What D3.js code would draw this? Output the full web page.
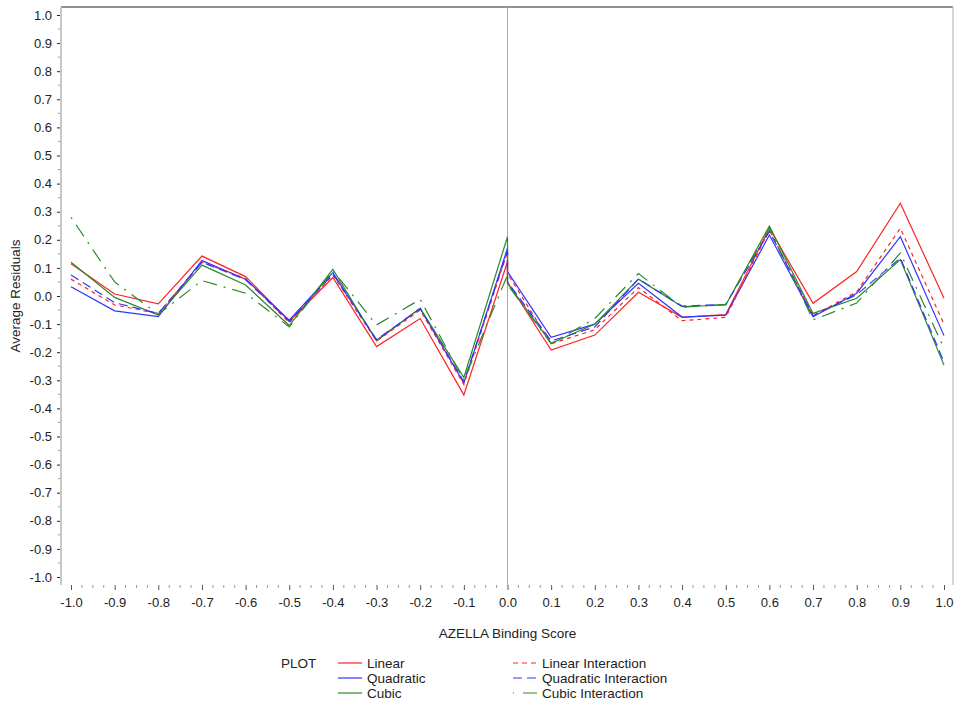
<!DOCTYPE html>
<html>
<head>
<meta charset="utf-8">
<script src="https://cdn.jsdelivr.net/npm/d3@7"></script>
<style>
body { margin: 0; background: #fff; }
text { font-family: "Liberation Sans", Arial, sans-serif; }
</style>
</head>
<body>
<svg id="chart"></svg>
<script>
// x values: 0.0 appears twice (left and right segment meet there)
const xVals = [-1.0, -0.9, -0.8, -0.7, -0.6, -0.5, -0.4, -0.3, -0.2, -0.1, 0.0,
               0.0, 0.1, 0.2, 0.3, 0.4, 0.5, 0.6, 0.7, 0.8, 0.9, 1.0]

const linear = [0.115, 0.007, -0.028, 0.142, 0.069, -0.090, 0.066, -0.180, -0.080, -0.352, 0.122,
                0.050, -0.192, -0.139, 0.013, -0.076, -0.066, 0.241, -0.026, 0.087, 0.330, -0.008]
const quadratic = [0.033, -0.053, -0.073, 0.126, 0.060, -0.086, 0.083, -0.157, -0.044, -0.310, 0.170,
                   0.087, -0.147, -0.100, 0.045, -0.075, -0.068, 0.217, -0.074, 0.010, 0.211, -0.141]
const cubic = [0.120, -0.005, -0.068, 0.110, 0.039, -0.105, 0.095, -0.160, -0.044, -0.290, 0.211,
               0.045, -0.168, -0.100, 0.060, -0.038, -0.032, 0.249, -0.062, -0.008, 0.130, -0.246]
const linearInteraction = [0.060, -0.032, -0.062, 0.120, 0.062, -0.095, 0.075, -0.160, -0.050, -0.315, 0.158,
                           0.080, -0.170, -0.120, 0.030, -0.088, -0.076, 0.235, -0.070, 0.015, 0.241, -0.100]
const quadraticInteraction = [0.075, -0.024, -0.062, 0.120, 0.058, -0.090, 0.078, -0.155, -0.045, -0.305, 0.160,
                              0.050, -0.160, -0.110, 0.060, -0.036, -0.030, 0.230, -0.070, 0.005, 0.135, -0.235]
const cubicInteraction = [0.280, 0.050, -0.065, 0.055, 0.010, -0.110, 0.090, -0.103, -0.012, -0.300, 0.075,
                          0.040, -0.170, -0.080, 0.080, -0.040, -0.030, 0.240, -0.085, -0.025, 0.153, -0.186]

const xTicks = [-1.0, -0.9, -0.8, -0.7, -0.6, -0.5, -0.4, -0.3, -0.2, -0.1, 0.0, 0.1, 0.2, 0.3, 0.4, 0.5, 0.6, 0.7, 0.8, 0.9, 1.0]
const yTicks = [-1.0, -0.9, -0.8, -0.7, -0.6, -0.5, -0.4, -0.3, -0.2, -0.1, 0.0, 0.1, 0.2, 0.3, 0.4, 0.5, 0.6, 0.7, 0.8, 0.9, 1.0]

const series = [
    {name: "Linear", values: linear, color: "#f22", dash: null},
    {name: "Quadratic", values: quadratic, color: "#33f", dash: null},
    {name: "Cubic", values: cubic, color: "#2a8a2a", dash: null},
    {name: "Linear Interaction", values: linearInteraction, color: "#f22", dash: "4,4"},
    {name: "Quadratic Interaction", values: quadraticInteraction, color: "#33f", dash: "9,5"},
    {name: "Cubic Interaction", values: cubicInteraction, color: "#2a8a2a", dash: "2,7,14,7"}
]

const svg = d3.select("#chart")
    .attr("width", 958)
    .attr("height", 706)

const plotLeft = 61, plotRight = 953, plotTop = 7, plotBottom = 585

const x = d3.scaleLinear().domain([-1, 1]).range([71, 944])
const y = d3.scaleLinear().domain([-1, 1]).range([577, 15])

// frame
svg.append("line").attr("x1", plotLeft).attr("x2", plotRight).attr("y1", plotTop).attr("y2", plotTop)
    .attr("stroke", "#222").attr("stroke-width", 1)
svg.append("line").attr("x1", plotRight).attr("x2", plotRight).attr("y1", plotTop).attr("y2", plotBottom)
    .attr("stroke", "#c8c8c8").attr("stroke-width", 1.5)

// reference line at 0
svg.append("line").attr("x1", x(0)).attr("x2", x(0)).attr("y1", plotTop).attr("y2", plotBottom)
    .attr("stroke", "#aaa").attr("stroke-width", 1)

// y axis
const yAxis = svg.append("g")
    .attr("transform", "translate(" + plotLeft + ",0)")
    .call(d3.axisLeft(y).tickValues(yTicks).tickFormat(d => d.toFixed(1)).tickSize(4).tickPadding(5))
yAxis.select(".domain").remove()
yAxis.selectAll("text").attr("font-size", 13).attr("fill", "#222")
yAxis.selectAll("line").attr("stroke", "#222")
svg.append("g").selectAll("line")
    .data(yTicks.slice(0, -1))
    .join("line")
    .attr("x1", plotLeft - 3).attr("x2", plotLeft)
    .attr("y1", d => y(d + 0.05)).attr("y2", d => y(d + 0.05))
    .attr("stroke", "#999")
svg.append("line").attr("x1", plotLeft).attr("x2", plotLeft).attr("y1", plotTop).attr("y2", plotBottom)
    .attr("stroke", "#c8c8c8").attr("stroke-width", 2)

// x axis
const xAxis = svg.append("g")
    .attr("transform", "translate(0," + plotBottom + ")")
    .call(d3.axisBottom(x).tickValues(xTicks).tickFormat(d => d.toFixed(1)).tickSize(5).tickPadding(8))
xAxis.select(".domain").remove()
xAxis.selectAll("text").attr("font-size", 13).attr("fill", "#222")
xAxis.selectAll("line").attr("stroke", "#555")
svg.append("g").selectAll("line")
    .data(d3.range(-39, 40).filter(i => i % 4 !== 0).map(i => i * 0.025))
    .join("line")
    .attr("x1", d => x(d)).attr("x2", d => x(d))
    .attr("y1", plotBottom).attr("y2", plotBottom + 3)
    .attr("stroke", "#999")

svg.append("text")
    .attr("x", x(0)).attr("y", 638)
    .attr("text-anchor", "middle")
    .attr("font-size", 13.5)
    .attr("fill", "#222")
    .text("AZELLA Binding Score")

svg.append("text")
    .attr("transform", "translate(20," + y(0) + ") rotate(-90)")
    .attr("text-anchor", "middle")
    .attr("font-size", 13.5)
    .attr("fill", "#222")
    .text("Average Residuals")

// lines
const line = d3.line()
    .x((d, i) => x(xVals[i]))
    .y(d => y(d))

svg.append("g").selectAll("path")
    .data(series)
    .join("path")
    .attr("d", d => line(d.values))
    .attr("fill", "none")
    .attr("stroke", d => d.color)
    .attr("stroke-width", 1.2)
    .attr("stroke-dasharray", d => d.dash)

// legend
svg.append("text")
    .attr("x", 281).attr("y", 668)
    .attr("font-size", 13.5).attr("fill", "#222")
    .text("PLOT")

const legend = svg.append("g").selectAll("g")
    .data(series)
    .join("g")
    .attr("transform", (d, i) => "translate(" + (i < 3 ? 338 : 513) + "," + (663 + (i % 3) * 15) + ")")

legend.append("line")
    .attr("x1", 0).attr("x2", 24)
    .attr("stroke", d => d.color)
    .attr("stroke-width", 1.2)
    .attr("stroke-dasharray", d => d.name == "Cubic Interaction" ? "1,9,14" : d.name == "Linear Interaction" ? "5,4" : d.dash)

legend.append("text")
    .attr("x", 29).attr("y", 5)
    .attr("font-size", 13.5).attr("fill", "#222")
    .text(d => d.name)
</script>
</body>
</html>
